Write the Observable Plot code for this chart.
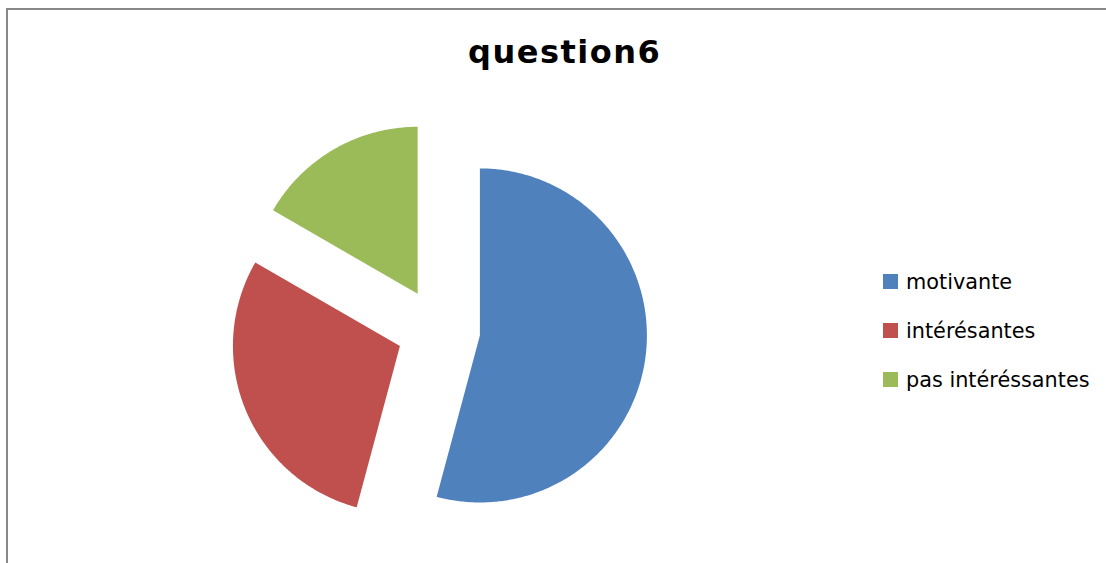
<!DOCTYPE html>
<html>
<head>
<meta charset="utf-8">
<script src="https://cdn.jsdelivr.net/npm/d3@7"></script>
<script src="https://cdn.jsdelivr.net/npm/@observablehq/plot@0.6"></script>
<style>
  html, body { margin: 0; padding: 0; background: #fff; overflow: hidden; }
  #wrap { position: relative; width: 1106px; height: 563px; overflow: hidden; }
  #frame { position: absolute; left: 6px; top: 8px; width: 1300px; height: 800px; border: 2px solid #878787; box-sizing: border-box; }
  #chart { position: absolute; left: 0; top: 0; }
  #title { position: absolute; left: 468px; top: 36px; font-family: "DejaVu Sans", sans-serif; font-weight: 700; font-size: 32px; letter-spacing: 1.5px; color: #000; line-height: 1; white-space: nowrap; }
  .sw { position: absolute; left: 883px; width: 15px; height: 15px; }
  .lt { position: absolute; left: 906px; font-family: "DejaVu Sans", sans-serif; font-size: 20.8px; color: #000; line-height: 1; white-space: nowrap; }
</style>
</head>
<body>
<div id="wrap">
  <div id="frame"></div>
  <div id="chart"></div>
  <div id="title"></div>
  <div id="legend"></div>
</div>
<script>
const categories = ["motivante", "intérésantes", "pas intéréssantes"];
const values = [13, 7, 4];
const colors = ["#4F81BD", "#C0504D", "#9BBB59"];
const titleText = "question6";
const explode = 0.25;

const arcs = d3.pie().sort(null).value(d => d.value)(categories.map((c, i) => ({category: c, value: values[i]})));
const pts = [];
arcs.forEach(a => {
  const mid = (a.startAngle + a.endAngle) / 2;
  const ox = explode * Math.sin(mid), oy = explode * Math.cos(mid);
  const cat = a.data.category;
  pts.push({category: cat, x: ox, y: oy});
  const n = Math.max(2, Math.ceil((a.endAngle - a.startAngle) / 0.01));
  for (let k = 0; k <= n; k++) {
    const t = a.startAngle + (a.endAngle - a.startAngle) * k / n;
    pts.push({category: cat, x: ox + Math.sin(t), y: oy + Math.cos(t)});
  }
  pts.push({category: cat, x: ox, y: oy});
});

const chart = Plot.plot({
  width: 1106,
  height: 563,
  marginLeft: 187.5,
  marginRight: 417.5,
  marginTop: 104,
  marginBottom: 8,
  x: {domain: [-1.5, 1.5], axis: null},
  y: {domain: [-1.35, 1.35], axis: null},
  color: {domain: categories, range: colors, legend: false},
  style: {background: "transparent", overflow: "visible"},
  marks: [
    Plot.line(pts, {x: "x", y: "y", z: "category", fill: "category", stroke: "none", curve: "linear"})
  ]
});
document.getElementById("chart").appendChild(chart);

document.getElementById("title").textContent = titleText;
const legend = document.getElementById("legend");
const rowTops = [274, 323, 372];
categories.forEach((c, i) => {
  const s = document.createElement("div");
  s.className = "sw";
  s.style.top = rowTops[i] + "px";
  s.style.background = colors[i];
  legend.appendChild(s);
  const t = document.createElement("div");
  t.className = "lt";
  t.style.top = (rowTops[i] - 2.5) + "px";
  t.textContent = c;
  legend.appendChild(t);
});
</script>
</body>
</html>
